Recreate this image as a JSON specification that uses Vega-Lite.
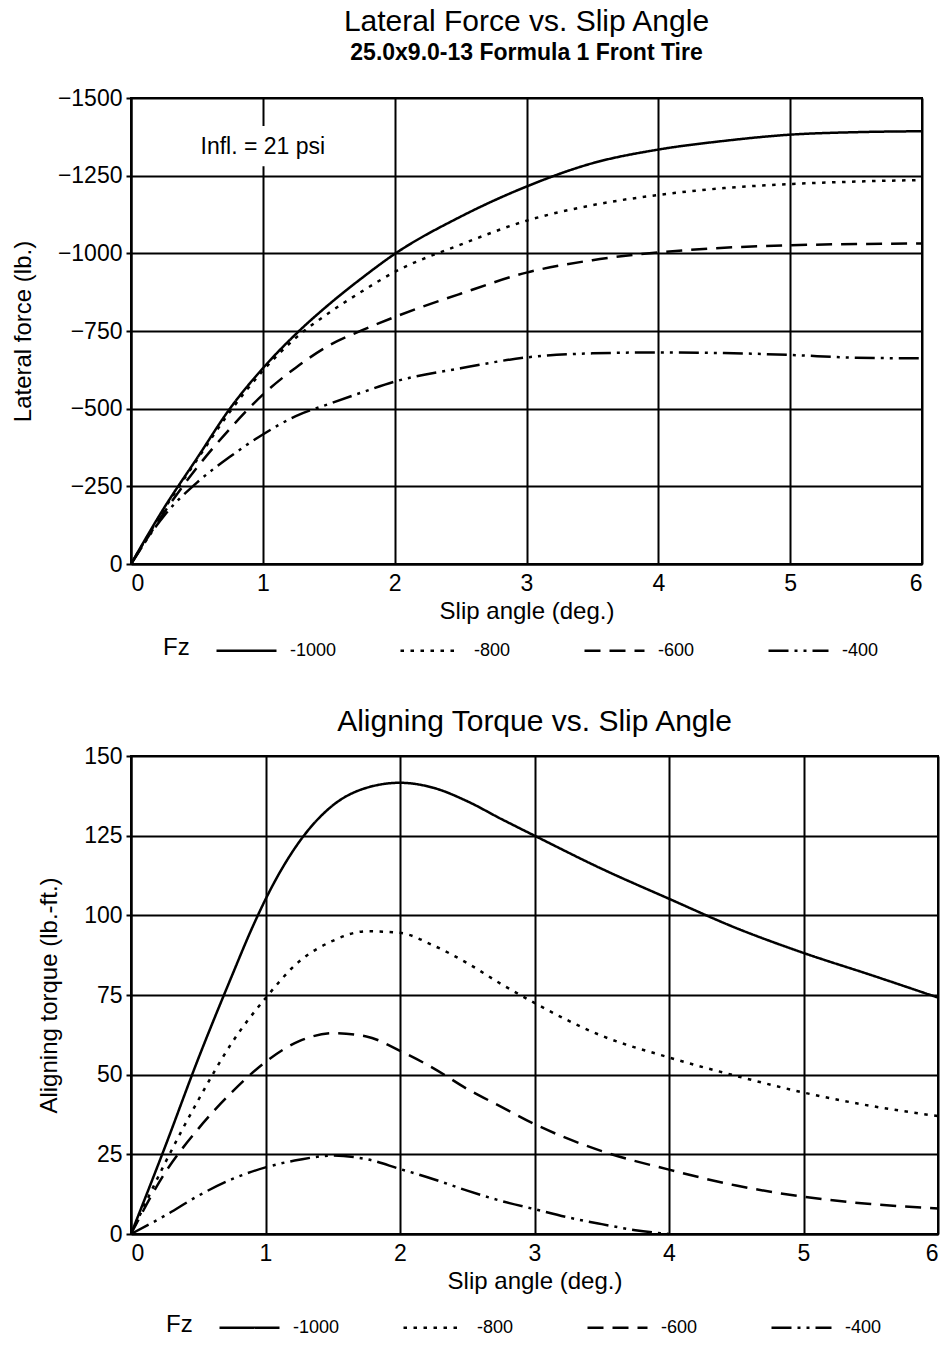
{
  "$schema": "https://vega.github.io/schema/vega-lite/v6.json",
  "padding": {"left": 10, "top": 6, "right": 4, "bottom": 0},
  "background": "white",
  "config": {
    "font": "Liberation Sans",
    "view": {"stroke": "black", "strokeWidth": 2},
    "axis": {
      "gridColor": "black", "gridWidth": 2, "gridOpacity": 1,
      "domainColor": "black", "domainWidth": 2,
      "tickColor": "black", "tickWidth": 2,
      "labelColor": "black", "labelFont": "Liberation Sans", "labelFontSize": 23,
      "titleColor": "black", "titleFont": "Liberation Sans", "titleFontSize": 24, "titleFontWeight": "normal"
    },
    "title": {
      "font": "Liberation Sans", "fontSize": 30, "fontWeight": "normal", "color": "black",
      "subtitleFont": "Liberation Sans", "subtitleFontSize": 23, "subtitleFontWeight": "bold",
      "subtitleColor": "black", "subtitlePadding": 5, "anchor": "middle"
    },
    "legend": {
      "orient": "none", "direction": "horizontal", "titleOrient": "left", "titleAnchor": "end",
      "titleFont": "Liberation Sans", "titleFontSize": 24, "titleFontWeight": "normal", "titleColor": "black",
      "titlePadding": 25,
      "labelFont": "Liberation Sans", "labelFontSize": 18, "labelColor": "black", "labelOffset": 12,
      "symbolType": "stroke", "symbolSize": 3600, "symbolStrokeWidth": 2.5, "symbolStrokeColor": "black",
      "columnPadding": 58, "gridAlign": "all"
    },
    "concat": {"spacing": 45}
  },
  "resolve": {"scale": {"strokeDash": "independent"}, "legend": {"strokeDash": "independent"}},
  "datasets": {
    "lateral": [
      {"slip": 0, "Fz": "-1000", "force": 0},
      {"slip": 0.25, "Fz": "-1000", "force": -180},
      {"slip": 0.5, "Fz": "-1000", "force": -340},
      {"slip": 0.75, "Fz": "-1000", "force": -500},
      {"slip": 1, "Fz": "-1000", "force": -630},
      {"slip": 1.25, "Fz": "-1000", "force": -740},
      {"slip": 1.5, "Fz": "-1000", "force": -835},
      {"slip": 1.75, "Fz": "-1000", "force": -920},
      {"slip": 2, "Fz": "-1000", "force": -998},
      {"slip": 2.5, "Fz": "-1000", "force": -1118},
      {"slip": 3, "Fz": "-1000", "force": -1215},
      {"slip": 3.5, "Fz": "-1000", "force": -1290},
      {"slip": 4, "Fz": "-1000", "force": -1334},
      {"slip": 4.5, "Fz": "-1000", "force": -1362},
      {"slip": 5, "Fz": "-1000", "force": -1382},
      {"slip": 5.5, "Fz": "-1000", "force": -1390},
      {"slip": 6, "Fz": "-1000", "force": -1393},
      {"slip": 0, "Fz": "-800", "force": 0},
      {"slip": 0.25, "Fz": "-800", "force": -175},
      {"slip": 0.5, "Fz": "-800", "force": -335},
      {"slip": 0.75, "Fz": "-800", "force": -490},
      {"slip": 1, "Fz": "-800", "force": -622},
      {"slip": 1.25, "Fz": "-800", "force": -728},
      {"slip": 1.5, "Fz": "-800", "force": -808},
      {"slip": 1.75, "Fz": "-800", "force": -877},
      {"slip": 2, "Fz": "-800", "force": -940},
      {"slip": 2.5, "Fz": "-800", "force": -1028},
      {"slip": 3, "Fz": "-800", "force": -1105},
      {"slip": 3.5, "Fz": "-800", "force": -1155},
      {"slip": 4, "Fz": "-800", "force": -1188},
      {"slip": 4.5, "Fz": "-800", "force": -1210},
      {"slip": 5, "Fz": "-800", "force": -1223},
      {"slip": 5.5, "Fz": "-800", "force": -1231},
      {"slip": 6, "Fz": "-800", "force": -1236},
      {"slip": 0, "Fz": "-600", "force": 0},
      {"slip": 0.25, "Fz": "-600", "force": -165},
      {"slip": 0.5, "Fz": "-600", "force": -310},
      {"slip": 0.75, "Fz": "-600", "force": -435},
      {"slip": 1, "Fz": "-600", "force": -545},
      {"slip": 1.25, "Fz": "-600", "force": -632},
      {"slip": 1.5, "Fz": "-600", "force": -703},
      {"slip": 1.75, "Fz": "-600", "force": -752},
      {"slip": 2, "Fz": "-600", "force": -795},
      {"slip": 2.5, "Fz": "-600", "force": -870},
      {"slip": 3, "Fz": "-600", "force": -938},
      {"slip": 3.5, "Fz": "-600", "force": -978},
      {"slip": 4, "Fz": "-600", "force": -1003},
      {"slip": 4.5, "Fz": "-600", "force": -1018},
      {"slip": 5, "Fz": "-600", "force": -1026},
      {"slip": 5.5, "Fz": "-600", "force": -1030},
      {"slip": 6, "Fz": "-600", "force": -1032},
      {"slip": 0, "Fz": "-400", "force": 0},
      {"slip": 0.25, "Fz": "-400", "force": -155},
      {"slip": 0.5, "Fz": "-400", "force": -262},
      {"slip": 0.75, "Fz": "-400", "force": -345},
      {"slip": 1, "Fz": "-400", "force": -417},
      {"slip": 1.25, "Fz": "-400", "force": -476},
      {"slip": 1.5, "Fz": "-400", "force": -515},
      {"slip": 1.75, "Fz": "-400", "force": -552},
      {"slip": 2, "Fz": "-400", "force": -587},
      {"slip": 2.5, "Fz": "-400", "force": -630},
      {"slip": 3, "Fz": "-400", "force": -665},
      {"slip": 3.5, "Fz": "-400", "force": -678},
      {"slip": 4, "Fz": "-400", "force": -681},
      {"slip": 4.5, "Fz": "-400", "force": -679},
      {"slip": 5, "Fz": "-400", "force": -673},
      {"slip": 5.5, "Fz": "-400", "force": -664},
      {"slip": 6, "Fz": "-400", "force": -662}
    ],
    "torque": [
      {"slip": 0, "Fz": "-1000", "torque": 0},
      {"slip": 0.25, "Fz": "-1000", "torque": 27},
      {"slip": 0.5, "Fz": "-1000", "torque": 55},
      {"slip": 0.75, "Fz": "-1000", "torque": 81},
      {"slip": 0.9, "Fz": "-1000", "torque": 96},
      {"slip": 1, "Fz": "-1000", "torque": 105},
      {"slip": 1.1, "Fz": "-1000", "torque": 113},
      {"slip": 1.25, "Fz": "-1000", "torque": 123},
      {"slip": 1.5, "Fz": "-1000", "torque": 134.5},
      {"slip": 1.75, "Fz": "-1000", "torque": 140},
      {"slip": 2, "Fz": "-1000", "torque": 141.6},
      {"slip": 2.25, "Fz": "-1000", "torque": 140},
      {"slip": 2.5, "Fz": "-1000", "torque": 135.8},
      {"slip": 2.75, "Fz": "-1000", "torque": 130.3},
      {"slip": 3, "Fz": "-1000", "torque": 125},
      {"slip": 3.5, "Fz": "-1000", "torque": 114.6},
      {"slip": 4, "Fz": "-1000", "torque": 105.2},
      {"slip": 4.5, "Fz": "-1000", "torque": 96},
      {"slip": 5, "Fz": "-1000", "torque": 88.2},
      {"slip": 5.5, "Fz": "-1000", "torque": 81.3},
      {"slip": 6, "Fz": "-1000", "torque": 74.2},
      {"slip": 0, "Fz": "-800", "torque": 0},
      {"slip": 0.25, "Fz": "-800", "torque": 22},
      {"slip": 0.5, "Fz": "-800", "torque": 42},
      {"slip": 0.75, "Fz": "-800", "torque": 60},
      {"slip": 1, "Fz": "-800", "torque": 74},
      {"slip": 1.25, "Fz": "-800", "torque": 85.5},
      {"slip": 1.5, "Fz": "-800", "torque": 92},
      {"slip": 1.75, "Fz": "-800", "torque": 95},
      {"slip": 2, "Fz": "-800", "torque": 94.5},
      {"slip": 2.25, "Fz": "-800", "torque": 90.5},
      {"slip": 2.5, "Fz": "-800", "torque": 85},
      {"slip": 2.75, "Fz": "-800", "torque": 78.5},
      {"slip": 3, "Fz": "-800", "torque": 72.5},
      {"slip": 3.5, "Fz": "-800", "torque": 62.2},
      {"slip": 4, "Fz": "-800", "torque": 55.4},
      {"slip": 4.5, "Fz": "-800", "torque": 49.6},
      {"slip": 5, "Fz": "-800", "torque": 44.4},
      {"slip": 5.5, "Fz": "-800", "torque": 40.2},
      {"slip": 6, "Fz": "-800", "torque": 37},
      {"slip": 0, "Fz": "-600", "torque": 0},
      {"slip": 0.25, "Fz": "-600", "torque": 19},
      {"slip": 0.5, "Fz": "-600", "torque": 33},
      {"slip": 0.75, "Fz": "-600", "torque": 44.5},
      {"slip": 1, "Fz": "-600", "torque": 54},
      {"slip": 1.25, "Fz": "-600", "torque": 60.5},
      {"slip": 1.5, "Fz": "-600", "torque": 63},
      {"slip": 1.75, "Fz": "-600", "torque": 62},
      {"slip": 2, "Fz": "-600", "torque": 57.5},
      {"slip": 2.25, "Fz": "-600", "torque": 52},
      {"slip": 2.5, "Fz": "-600", "torque": 45.5},
      {"slip": 2.75, "Fz": "-600", "torque": 40},
      {"slip": 3, "Fz": "-600", "torque": 34.5},
      {"slip": 3.5, "Fz": "-600", "torque": 26},
      {"slip": 4, "Fz": "-600", "torque": 20.2},
      {"slip": 4.5, "Fz": "-600", "torque": 15.2},
      {"slip": 5, "Fz": "-600", "torque": 11.7},
      {"slip": 5.5, "Fz": "-600", "torque": 9.4},
      {"slip": 6, "Fz": "-600", "torque": 8},
      {"slip": 0, "Fz": "-400", "torque": 0},
      {"slip": 0.25, "Fz": "-400", "torque": 5.7},
      {"slip": 0.5, "Fz": "-400", "torque": 12},
      {"slip": 0.75, "Fz": "-400", "torque": 17.2},
      {"slip": 1, "Fz": "-400", "torque": 20.9},
      {"slip": 1.25, "Fz": "-400", "torque": 23.3},
      {"slip": 1.5, "Fz": "-400", "torque": 24.6},
      {"slip": 1.75, "Fz": "-400", "torque": 23.5},
      {"slip": 2, "Fz": "-400", "torque": 20.4},
      {"slip": 2.25, "Fz": "-400", "torque": 17.2},
      {"slip": 2.5, "Fz": "-400", "torque": 13.6},
      {"slip": 2.75, "Fz": "-400", "torque": 10.4},
      {"slip": 3, "Fz": "-400", "torque": 7.8},
      {"slip": 3.25, "Fz": "-400", "torque": 5.2},
      {"slip": 3.5, "Fz": "-400", "torque": 3.1},
      {"slip": 3.75, "Fz": "-400", "torque": 1.2},
      {"slip": 4, "Fz": "-400", "torque": 0}
    ],
    "note": [{"label": "Infl. = 21 psi"}]
  },
  "vconcat": [
    {
      "width": 791,
      "height": 466,
      "title": {"text": "Lateral Force vs. Slip Angle", "subtitle": "25.0x9.0-13 Formula 1 Front Tire", "offset": 22},
      "layer": [
        {
          "data": {"name": "lateral"},
          "mark": {"type": "line", "interpolate": "monotone", "color": "black", "strokeWidth": 2.5},
          "encoding": {
            "x": {"field": "slip", "type": "quantitative", "scale": {"domain": [0, 6], "nice": false},
                  "axis": {"values": [0, 1, 2, 3, 4, 5, 6], "format": "d", "title": "Slip angle (deg.)", "tickSize": 0, "labelPadding": 8, "titlePadding": 4}},
            "y": {"field": "force", "type": "quantitative", "scale": {"domain": [-1500, 0], "reverse": true, "nice": false},
                  "axis": {"values": [-1500, -1250, -1000, -750, -500, -250, 0], "format": "d", "title": "Lateral force (lb.)", "tickSize": 5, "labelPadding": 4, "titlePadding": 22}},
            "strokeDash": {"field": "Fz", "type": "nominal", "title": "Fz",
                  "scale": {"domain": ["-1000", "-800", "-600", "-400"], "range": [[1, 0], [3.5, 6.5], [16, 9], [20, 6, 3, 6, 3, 6]]},
                  "legend": {"legendX": 32, "legendY": 521}}
          }
        },
        {
          "data": {"name": "note"},
          "mark": {"type": "rect", "color": "white"},
          "encoding": {"x": {"datum": 0.52}, "x2": {"datum": 1.5}, "y": {"datum": -1280}, "y2": {"datum": -1410}}
        },
        {
          "data": {"name": "note"},
          "mark": {"type": "text", "fontSize": 23, "font": "Liberation Sans", "color": "black", "align": "center", "baseline": "middle"},
          "encoding": {"x": {"datum": 1}, "y": {"datum": -1343}, "text": {"field": "label"}}
        }
      ]
    },
    {
      "width": 807,
      "height": 478,
      "title": {"text": "Aligning Torque vs. Slip Angle", "offset": 8},
      "data": {"name": "torque"},
      "mark": {"type": "line", "interpolate": "monotone", "color": "black", "strokeWidth": 2.5},
      "encoding": {
        "x": {"field": "slip", "type": "quantitative", "scale": {"domain": [0, 6], "nice": false},
              "axis": {"values": [0, 1, 2, 3, 4, 5, 6], "format": "d", "title": "Slip angle (deg.)", "tickSize": 0, "labelPadding": 8, "titlePadding": 4}},
        "y": {"field": "torque", "type": "quantitative", "scale": {"domain": [0, 150], "nice": false},
              "axis": {"values": [0, 25, 50, 75, 100, 125, 150], "format": "d", "title": "Aligning torque (lb.-ft.)", "tickSize": 5, "labelPadding": 4, "titlePadding": 22}},
        "strokeDash": {"field": "Fz", "type": "nominal", "title": "Fz",
              "scale": {"domain": ["-1000", "-800", "-600", "-400"], "range": [[1, 0], [3.5, 6.5], [16, 9], [20, 6, 3, 6, 3, 6]]},
              "legend": {"legendX": 35, "legendY": 540}}
      }
    }
  ]
}
